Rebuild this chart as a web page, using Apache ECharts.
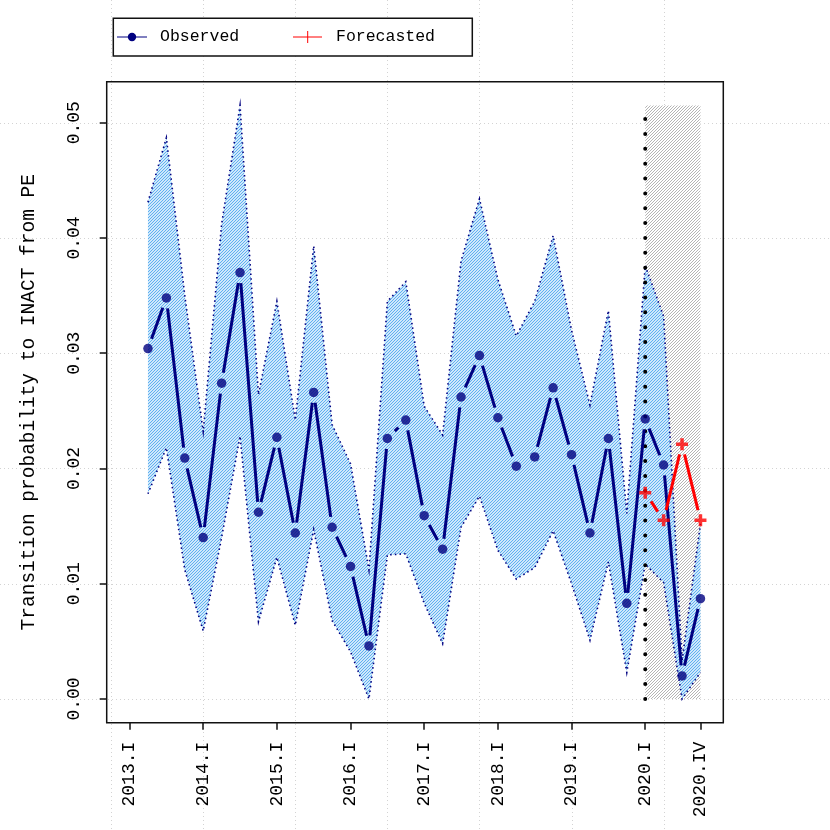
<!DOCTYPE html>
<html><head><meta charset="utf-8">
<script src="https://cdn.jsdelivr.net/npm/echarts@6/dist/echarts.min.js"></script>
<style>html,body{margin:0;padding:0;background:#fff}#c{width:830px;height:830px}</style>
</head><body><div id="c"></div>
<script>
// ---------- data ----------
const periods = ['2013.II','2013.III','2013.IV',
  '2014.I','2014.II','2014.III','2014.IV',
  '2015.I','2015.II','2015.III','2015.IV',
  '2016.I','2016.II','2016.III','2016.IV',
  '2017.I','2017.II','2017.III','2017.IV',
  '2018.I','2018.II','2018.III','2018.IV',
  '2019.I','2019.II','2019.III','2019.IV',
  '2020.I','2020.II','2020.III','2020.IV'];
const observed = [0.0304,0.0348,0.0209,
  0.0140,0.0274,0.0370,0.0162,
  0.0227,0.0144,0.0266,0.0149,
  0.0115,0.0046,0.0226,0.0242,
  0.0159,0.0130,0.0262,0.0298,
  0.0244,0.0202,0.0210,0.0270,
  0.0212,0.0144,0.0226,0.0083,
  0.0243,0.0203,0.0020,0.0087];
const upper = [0.0431,0.0487,0.0350,
  0.0232,0.0412,0.0515,0.0264,
  0.0345,0.0242,0.0393,0.0238,
  0.0204,0.0112,0.0345,0.0362,
  0.0254,0.0229,0.0380,0.0434,
  0.0364,0.0315,0.0345,0.0402,
  0.0320,0.0255,0.0337,0.0161,
  0.0376,0.0332,0.0033,0.0152];
const lower = [0.0178,0.0218,0.0112,
  0.0059,0.0140,0.0228,0.0067,
  0.0123,0.0064,0.0147,0.0068,
  0.0041,0.0000,0.0125,0.0126,
  0.0083,0.0048,0.0149,0.0176,
  0.0129,0.0104,0.0114,0.0146,
  0.0100,0.0051,0.0119,0.0023,
  0.0117,0.0101,0.0000,0.0023];
const forecastPeriods = ['2020.I','2020.II','2020.III','2020.IV'];
const forecast = [0.0179,0.0155,0.0221,0.0155];
const xTickLabels = ['2013.I','2014.I','2015.I','2016.I','2017.I','2018.I','2019.I','2020.I','2020.IV'];
const yTicks = [0,0.01,0.02,0.03,0.04,0.05];
const gridXPeriods = ['2012.IV','2014.I','2015.II','2016.III','2017.IV','2019.I','2020.II'];
const legendLabels = ['Observed','Forecasted'];
const yTitle = 'Transition probability to INACT from PE';

// ---------- helpers ----------
const QN = ['I','II','III','IV'];
function qx(p){ const s = p.split('.'); return (Number(s[0]) - 2013) * 4 + QN.indexOf(s[1]); }
const xs = periods.map(qx);
const fxs = forecastPeriods.map(qx);
const xTicks = xTickLabels.map(qx);
const gridX = gridXPeriods.map(qx);
const bandMax = Math.max.apply(null, upper);
const xMinData = 0, xMaxData = qx('2020.IV');
const xPad = (xMaxData - xMinData) * 0.04;
const yPad = (bandMax - 0) * 0.04;

function hatch(color, lw){
  const c = document.createElement('canvas');
  c.width = 3; c.height = 3;
  const g = c.getContext('2d');
  g.fillStyle = '#fff'; g.fillRect(0,0,3,3);
  g.strokeStyle = color; g.lineWidth = lw;
  g.beginPath();
  g.moveTo(-1,4); g.lineTo(4,-1);
  g.moveTo(-1,1); g.lineTo(1,-1);
  g.moveTo(2,4); g.lineTo(4,2);
  g.stroke();
  return c;
}
const blueHatch = hatch('#56acf0', 1.1);
const greyHatch = hatch('#b4b4b4', 1.0);

const FONT = 'Liberation Mono';
const GAP = 10.5;
function segRender(color){
  return function(params, api){
    const p1 = api.coord([api.value(0), api.value(1)]);
    const p2 = api.coord([api.value(2), api.value(3)]);
    const dx = p2[0]-p1[0], dy = p2[1]-p1[1];
    const L = Math.hypot(dx, dy);
    if (L <= 2*GAP) return null;
    const ux = dx/L, uy = dy/L;
    return {type:'line', shape:{x1:p1[0]+ux*GAP, y1:p1[1]+uy*GAP, x2:p2[0]-ux*GAP, y2:p2[1]-uy*GAP},
      style:{stroke:color, lineWidth:3, lineCap:'butt'}};
  };
}
function segs(x, y){
  const out = [];
  for (let i = 0; i < x.length - 1; i++) out.push([x[i], y[i], x[i+1], y[i+1]]);
  return out;
}

const chart = echarts.init(document.getElementById('c'), null, {renderer:'canvas'});
const option = {
  animation:false,
  backgroundColor:'#fff',
  grid:{left:106.7, top:81.7, right:830-723.3, bottom:830-722.7, show:true, borderColor:'#111', borderWidth:1.5, backgroundColor:'transparent'},
  xAxis:{type:'value', min:xMinData - xPad, max:xMaxData + xPad,
    axisLine:{show:false, onZero:false}, splitLine:{show:false},
    axisTick:{show:true, length:7, customValues:xTicks, lineStyle:{color:'#111', width:1.5}},
    axisLabel:{customValues:xTicks, rotate:90, margin:19, color:'#000', fontFamily:FONT, fontSize:18,
      formatter:function(v){ const k = xTicks.indexOf(Math.round(v)); return k >= 0 ? xTickLabels[k] : ''; }}},
  yAxis:{type:'value', min:-yPad, max:bandMax + yPad,
    axisLine:{show:false, onZero:false}, splitLine:{show:false},
    axisTick:{show:true, length:7, customValues:yTicks, lineStyle:{color:'#111', width:1.5}},
    axisLabel:{customValues:yTicks, rotate:90, margin:23, color:'#000', fontFamily:FONT, fontSize:18,
      formatter:function(v){ return v.toFixed(2); }},
    name:yTitle, nameLocation:'middle', nameRotate:90, nameGap:68,
    nameTextStyle:{fontFamily:FONT, fontSize:19.5, color:'#000'}},
  graphic:[
    {type:'rect', shape:{x:113.3, y:18.3, width:359, height:37.7}, style:{fill:'#fff', stroke:'#111', lineWidth:1.5}, z:100},
    {type:'line', shape:{x1:117, y1:37, x2:147, y2:37}, style:{stroke:'#000080', lineWidth:1}, z:101},
    {type:'circle', shape:{cx:132, cy:37, r:4.2}, style:{fill:'#000080'}, z:101},
    {type:'text', x:160, y:37, style:{text:legendLabels[0], font:'16.5px "Liberation Mono"', fill:'#000', verticalAlign:'middle'}, z:101},
    {type:'line', shape:{x1:293, y1:37, x2:322, y2:37}, style:{stroke:'#ff0000', lineWidth:1}, z:101},
    {type:'line', shape:{x1:307.7, y1:31, x2:307.7, y2:43}, style:{stroke:'#ff0000', lineWidth:1}, z:101},
    {type:'text', x:336, y:37, style:{text:legendLabels[1], font:'16.5px "Liberation Mono"', fill:'#000', verticalAlign:'middle'}, z:101}
  ],
  series:[
    {type:'custom', silent:true, z:0, clip:false, data:gridX.map(v=>[v]), encode:{x:0},
      renderItem:function(params, api){
        const px = Math.round(api.coord([api.value(0), 0])[0]) + 0.5;
        return {type:'line', shape:{x1:px, y1:0, x2:px, y2:api.getHeight()},
          style:{stroke:'#d3d3d3', lineWidth:1, lineDash:[1,3]}};
      }},
    {type:'custom', silent:true, z:0, clip:false, data:yTicks.map(v=>[0, v]), encode:{x:0, y:1},
      renderItem:function(params, api){
        const py = Math.round(api.coord([0, api.value(1)])[1]) + 0.5;
        return {type:'line', shape:{x1:0, y1:py, x2:api.getWidth(), y2:py},
          style:{stroke:'#d3d3d3', lineWidth:1, lineDash:[1,3]}};
      }},
    {type:'custom', silent:true, z:1, data:[[fxs[0], 0, fxs[fxs.length-1], bandMax]], encode:{x:[0,2], y:[1,3]},
      renderItem:function(params, api){
        const a = api.coord([api.value(0), api.value(3)]);
        const b = api.coord([api.value(2), api.value(1)]);
        return {type:'rect', shape:{x:a[0], y:a[1], width:b[0]-a[0], height:b[1]-a[1]},
          style:{fill:{image:greyHatch, repeat:'repeat'}}};
      }},
    {type:'custom', silent:true, z:2, data:[[xs[0], lower[0]]], encode:{x:0, y:1},
      renderItem:function(params, api){
        const up = xs.map((x,i)=>api.coord([x, upper[i]]));
        const lo = xs.map((x,i)=>api.coord([x, lower[i]]));
        const poly = up.concat(lo.slice().reverse());
        return {type:'group', children:[
          {type:'polygon', shape:{points:poly}, style:{fill:{image:blueHatch, repeat:'repeat'}, stroke:null}},
          {type:'polyline', shape:{points:up}, style:{fill:null, stroke:'#000080', lineWidth:1.6, lineDash:[1.5,3.2]}},
          {type:'polyline', shape:{points:lo}, style:{fill:null, stroke:'#000080', lineWidth:1.6, lineDash:[1.5,3.2]}}
        ]};
      }},
    {type:'line', z:3, silent:true, symbol:'none',
      data:[[fxs[0], 0],[fxs[0], bandMax]],
      lineStyle:{color:'#000', width:4, type:[0,14.87], cap:'round'}},
    {type:'custom', z:4, silent:true, data:segs(xs, observed), encode:{x:[0,2], y:[1,3]}, renderItem:segRender('#000080')},
    {type:'scatter', z:5, silent:true, symbol:'circle', symbolSize:9.5, itemStyle:{color:'#000080'},
      data:xs.map((x,i)=>[x, observed[i]])},
    {type:'custom', z:6, silent:true, data:segs(fxs, forecast), encode:{x:[0,2], y:[1,3]}, renderItem:segRender('#ff0000')},
    {type:'scatter', z:7, silent:true,
      symbol:'path://M-1.6,-5.5L1.6,-5.5L1.6,-1.6L5.5,-1.6L5.5,1.6L1.6,1.6L1.6,5.5L-1.6,5.5L-1.6,1.6L-5.5,1.6L-5.5,-1.6L-1.6,-1.6Z',
      symbolSize:12, itemStyle:{color:'#ff0000'},
      data:fxs.map((x,i)=>[x, forecast[i]])}
  ]
};
chart.setOption(option);
</script>
</body></html>
